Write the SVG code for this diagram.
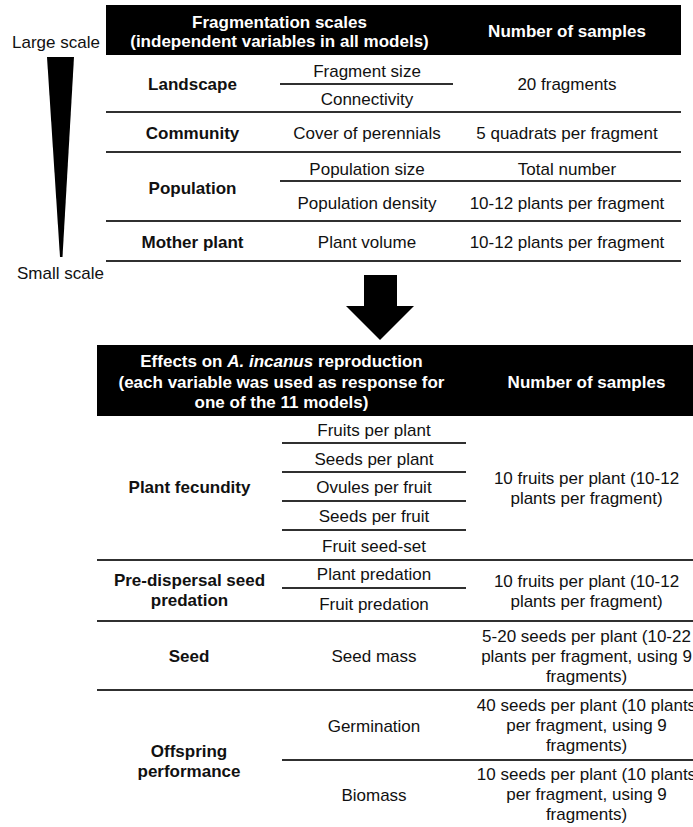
<svg xmlns="http://www.w3.org/2000/svg" width="693" height="827" viewBox="0 0 693 827">
<style>
text{font-family:"Liberation Sans",Arial,sans-serif;font-size:17px;fill:#111;text-anchor:middle}
.b{font-weight:bold}
.h{font-weight:bold;fill:#fff}
.l{text-anchor:start}
.ln{stroke:#303030;stroke-width:2;fill:none}
.hd{fill:#000}
</style>
<rect width="693" height="827" fill="#fff"/>

<g id="scale-axis">
<text class="l" x="12" y="48">Large scale</text>
<polygon points="47,57 74,57 62.5,257 60,257" fill="#000"/>
<text class="l" x="17" y="279">Small scale</text>
</g>

<g id="table-top">
<g id="top-header">
<rect class="hd" x="106" y="5" width="575" height="50"/>
<text class="h" x="279.5" y="27.5">Fragmentation scales</text>
<text class="h" x="279.5" y="46.5">(independent variables in all models)</text>
<text class="h" x="567" y="37">Number of samples</text>
</g>
<g id="row-landscape">
<text class="b" x="192.5" y="89.5">Landscape</text>
<text x="367" y="77">Fragment size</text>
<line class="ln" x1="280" y1="84" x2="453" y2="84"/>
<text x="367" y="105">Connectivity</text>
<text x="567" y="89.5">20 fragments</text>
</g>
<line class="ln" x1="106" y1="112" x2="681" y2="112"/>
<g id="row-community">
<text class="b" x="192.5" y="138.5">Community</text>
<text x="367" y="138.5">Cover of perennials</text>
<text x="567" y="138.5">5 quadrats per fragment</text>
</g>
<line class="ln" x1="106" y1="152" x2="681" y2="152"/>
<g id="row-population">
<text class="b" x="192.5" y="193.5">Population</text>
<text x="367" y="175">Population size</text>
<text x="567" y="174.5">Total number</text>
<line class="ln" x1="280" y1="181" x2="681" y2="181"/>
<text x="367" y="208.5">Population density</text>
<text x="567" y="208.5">10-12 plants per fragment</text>
</g>
<line class="ln" x1="106" y1="221" x2="681" y2="221"/>
<g id="row-mother">
<text class="b" x="192.5" y="247.5">Mother plant</text>
<text x="367" y="247.5">Plant volume</text>
<text x="567" y="247.5">10-12 plants per fragment</text>
</g>
<line class="ln" x1="106" y1="261" x2="681" y2="261"/>
</g>

<g id="connectors">
<polygon points="364,275 397,275 397,306 414,306 380,340 346,306 364,306" fill="#000"/>
</g>

<g id="table-bottom">
<g id="bottom-header">
<rect class="hd" x="97" y="345" width="596" height="71"/>
<text class="h" x="281.5" y="367.3">Effects on <tspan font-style="italic">A. incanus</tspan> reproduction</text>
<text class="h" x="281.5" y="387.7">(each variable was used as response for</text>
<text class="h" x="281.5" y="407.7">one of the 11 models)</text>
<text class="h" x="586.5" y="387.7">Number of samples</text>
</g>
<g id="row-fecundity">
<text class="b" x="189.5" y="493.3">Plant fecundity</text>
<text x="374" y="436">Fruits per plant</text>
<line class="ln" x1="282" y1="443" x2="466" y2="443"/>
<text x="374" y="465">Seeds per plant</text>
<line class="ln" x1="282" y1="472" x2="466" y2="472"/>
<text x="374" y="493.3">Ovules per fruit</text>
<line class="ln" x1="282" y1="501" x2="466" y2="501"/>
<text x="374" y="522.3">Seeds per fruit</text>
<line class="ln" x1="282" y1="530" x2="466" y2="530"/>
<text x="374" y="551.7">Fruit seed-set</text>
<text x="586.5" y="484">10 fruits per plant (10-12</text>
<text x="586.5" y="504.3">plants per fragment)</text>
</g>
<line class="ln" x1="97" y1="560" x2="693" y2="560"/>
<g id="row-predation">
<text class="b" x="189.5" y="585.5">Pre-dispersal seed</text>
<text class="b" x="189.5" y="605.5">predation</text>
<text x="374" y="580">Plant predation</text>
<line class="ln" x1="282" y1="588" x2="466" y2="588"/>
<text x="374" y="610">Fruit predation</text>
<text x="586.5" y="586.7">10 fruits per plant (10-12</text>
<text x="586.5" y="606.7">plants per fragment)</text>
</g>
<line class="ln" x1="97" y1="621" x2="693" y2="621"/>
<g id="row-seed">
<text class="b" x="189" y="662">Seed</text>
<text x="374" y="662">Seed mass</text>
<text x="586.5" y="642">5-20 seeds per plant (10-22</text>
<text x="586.5" y="662">plants per fragment, using 9</text>
<text x="586.5" y="682">fragments)</text>
</g>
<line class="ln" x1="97" y1="690" x2="693" y2="690"/>
<g id="row-offspring">
<text class="b" x="189" y="757">Offspring</text>
<text class="b" x="189" y="777">performance</text>
<text x="374" y="732">Germination</text>
<text x="586.5" y="711">40 seeds per plant (10 plants</text>
<text x="586.5" y="731">per fragment, using 9</text>
<text x="586.5" y="751">fragments)</text>
<line class="ln" x1="282" y1="760" x2="693" y2="760"/>
<text x="374" y="801">Biomass</text>
<text x="586.5" y="780">10 seeds per plant (10 plants</text>
<text x="586.5" y="800">per fragment, using 9</text>
<text x="586.5" y="820">fragments)</text>
</g>
</g>
</svg>
